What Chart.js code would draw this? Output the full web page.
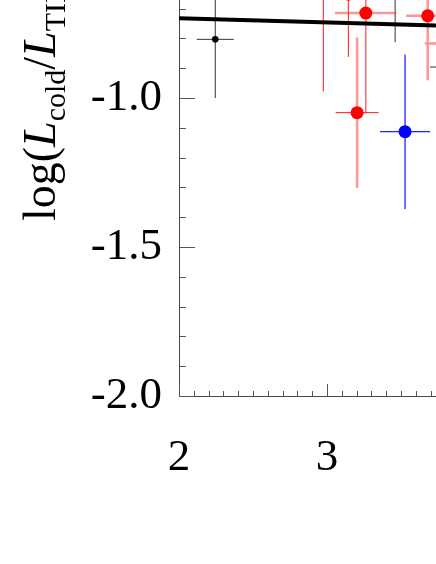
<!DOCTYPE html>
<html>
<head>
<meta charset="utf-8">
<script src="https://cdn.jsdelivr.net/npm/chart.js@4.4.1/dist/chart.umd.min.js"></script>
<style>
  html, body { margin: 0; padding: 0; background: #fff; overflow: hidden; }
  #caixa { width: 436px; height: 564px; }
</style>
</head>
<body>
<div id="caixa"><canvas id="grafico"></canvas></div>
<script>
// axis ranges of the visible crop
const xMin = 2.0, xMax = 3.736;
const yMin = -2.0, yMax = -0.671;
const xTickLabels = [2, 3];
const yTickLabels = [-2.0, -1.5, -1.0];

// fitted relation
const fitX = [2.0, 3.736];
const fitY = [-0.732, -0.757];

// red points (centre + half sizes of the error bars)
const redX  = [3.262, 3.203, 3.680, 2.975, 3.144, 3.800];
const redY  = [-0.715, -1.049, -0.724, -0.600, -0.651, -0.817];
const redXe = [0.208, 0.145, 0.146, 0.100, 0.100, 0.140];
const redYe = [0.335, 0.252, 0.216, 0.378, 0.211, 0.200];
// which bars are drawn in the pale thick style (true) or thin solid red (false)
const redXpale = [true, false, true, true, true, true];
const redYpale = [false, true, true, false, false, true];

// blue points
const blueX  = [3.527];
const blueY  = [-1.113];
const blueXe = [0.169];
const blueYe = [0.259];

// black points
const blackX  = [2.245, 3.460, 3.850];
const blackY  = [-0.803, -0.620, -0.896];
const blackXe = [0.125, 0.120, 0.155];
const blackYe = [0.197, 0.193, 0.150];

function barras(xs, ys, xe, ye, fx, fy) {
  let out = [];
  xs.forEach((x, i) => {
    if (!fx || fx(i)) {
      out.push({x: x - xe[i], y: ys[i]}, {x: x + xe[i], y: ys[i]}, {x: x + xe[i], y: null});
    }
    if (!fy || fy(i)) {
      out.push({x: x, y: ys[i] - ye[i]}, {x: x, y: ys[i] + ye[i]}, {x: x, y: null});
    }
  });
  return out;
}

function pontos(xs, ys) {
  return xs.map((x, i) => ({x: x, y: ys[i]}));
}

function linhaBarra(label, data, cor, largura) {
  return {
    label: label, data: data, borderColor: cor, borderWidth: largura,
    pointRadius: 0, spanGaps: false, tension: 0, fill: false, order: 2
  };
}

function marcador(label, data, cor, raio) {
  return {
    label: label, data: data, showLine: false, pointRadius: raio,
    pointBackgroundColor: cor, pointBorderWidth: 0, pointHoverRadius: raio, order: 0
  };
}

// inward ticks like the original plot
const marcasEixo = {
  id: 'marcasEixo',
  afterDraw(chart) {
    const ctx = chart.ctx;
    const sx = chart.scales.x, sy = chart.scales.y;
    const left = chart.chartArea.left, bottom = chart.chartArea.bottom;
    ctx.save();
    ctx.strokeStyle = '#555';
    ctx.lineWidth = 1;
    ctx.beginPath();
    for (let k = 0; k <= 13; k++) {
      const v = yMin + k * 0.1;
      const py = Math.round(sy.getPixelForValue(v)) + 0.5;
      const len = (k % 5 === 0) ? 16 : 7;
      ctx.moveTo(left, py); ctx.lineTo(left + len, py);
    }
    for (let k = 0; k <= 17; k++) {
      const v = xMin + k * 0.1;
      const px = Math.round(sx.getPixelForValue(v)) + 0.5;
      const len = (k % 10 === 0) ? 12 : 5;
      ctx.moveTo(px, bottom); ctx.lineTo(px, bottom - len);
    }
    ctx.stroke();
    ctx.restore();
  }
};

// rotated y title with italic letters and subscripts
const tituloY = {
  id: 'tituloY',
  afterDraw(chart) {
    const ctx = chart.ctx;
    const partes = [
      {t: 'log(', it: false, sub: false},
      {t: 'L', it: true, sub: false},
      {t: 'cold', it: false, sub: true},
      {t: '/', it: false, sub: false},
      {t: 'L', it: true, sub: false},
      {t: 'TIR', it: false, sub: true},
      {t: ')', it: false, sub: false}
    ];
    ctx.save();
    ctx.translate(55, 221);
    ctx.rotate(-Math.PI / 2);
    ctx.fillStyle = '#000';
    ctx.textBaseline = 'alphabetic';
    let pos = 0;
    partes.forEach(p => {
      const size = p.sub ? 30 : 46;
      ctx.font = (p.it ? 'italic ' : '') + size + 'px "Liberation Serif"';
      ctx.fillText(p.t, pos, p.sub ? 10 : 0);
      pos += ctx.measureText(p.t).width;
    });
    ctx.restore();
  }
};

const graficoCtx = document.getElementById('grafico');

const grafico = new Chart(graficoCtx, {
  type: 'line',
  data: {
    datasets: [
      marcador('red', pontos(redX, redY), '#ff0000', 6.5),
      marcador('blue', pontos(blueX, blueY), '#0000ff', 6.5),
      marcador('black', pontos(blackX, blackY), '#000000', 3.3),
      {
        label: 'fit', data: pontos(fitX, fitY), borderColor: '#000', borderWidth: 4,
        pointRadius: 0, tension: 0, fill: false, order: 1
      },
      linhaBarra('red pale', barras(redX, redY, redXe, redYe, i => redXpale[i], i => redYpale[i]), 'rgba(255,60,60,0.55)', 2.5),
      linhaBarra('red thin', barras(redX, redY, redXe, redYe, i => !redXpale[i], i => !redYpale[i]), '#ff1a1a', 1),
      linhaBarra('blue err', barras(blueX, blueY, blueXe, blueYe), '#2222ff', 1.3),
      linhaBarra('black err', barras(blackX, blackY, blackXe, blackYe), '#333', 1)
    ]
  },
  options: {
    responsive: true,
    maintainAspectRatio: false,
    animation: false,
    events: [],
    layout: { padding: 0, autoPadding: false },
    plugins: { legend: { display: false }, tooltip: { enabled: false } },
    scales: {
      x: {
        type: 'linear', min: xMin, max: xMax,
        afterBuildTicks: s => { s.ticks = xTickLabels.map(v => ({value: v})); },
        afterFit: s => { s.height = 168; s.paddingLeft = 0; s.paddingRight = 0; },
        grid: { drawOnChartArea: false, drawTicks: false },
        border: { display: true, color: '#444', width: 1 },
        ticks: {
          padding: 35, color: '#000', maxRotation: 0,
          font: { family: 'Liberation Serif', size: 45 },
          callback: v => String(v)
        }
      },
      y: {
        type: 'linear', min: yMin, max: yMax,
        afterBuildTicks: s => { s.ticks = yTickLabels.map(v => ({value: v})); },
        afterFit: s => { s.width = 179; s.paddingTop = 0; s.paddingBottom = 0; },
        grid: { drawOnChartArea: false, drawTicks: false },
        border: { display: true, color: '#444', width: 1 },
        ticks: {
          padding: 17, color: '#000',
          font: { family: 'Liberation Serif', size: 45 },
          callback: v => Number(v).toFixed(1)
        }
      }
    }
  },
  plugins: [marcasEixo, tituloY]
});
</script>
</body>
</html>
